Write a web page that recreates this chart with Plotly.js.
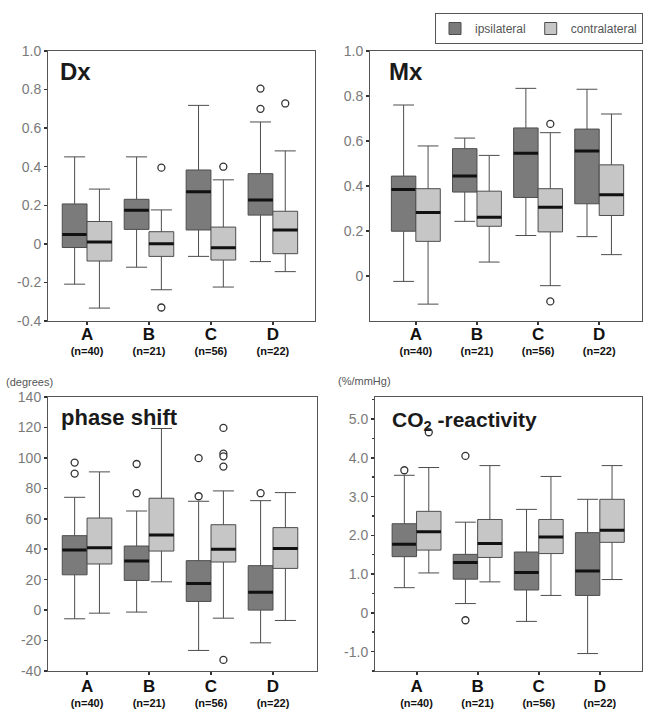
<!DOCTYPE html>
<html><head><meta charset="utf-8">
<script src="https://cdn.plot.ly/plotly-3.0.1.min.js"></script>
<style>html,body{margin:0;padding:0;background:#fff;}#chart{width:645px;height:711px;}</style>
</head><body><div id="chart"></div>
<script>
// ---- categories ----
const categories = ['A', 'B', 'C', 'D'];
const nLabels = ['(n=40)', '(n=21)', '(n=56)', '(n=22)'];
const seriesNames = ['ipsilateral', 'contralateral'];

// ---- Dx ----
const dxIpsiLow = [-0.209, -0.121, -0.065, -0.092];
const dxIpsiQ1  = [-0.019, 0.075, 0.072, 0.149];
const dxIpsiMed = [0.048, 0.174, 0.270, 0.227];
const dxIpsiQ3  = [0.207, 0.231, 0.383, 0.364];
const dxIpsiUp  = [0.451, 0.451, 0.718, 0.632];
const dxIpsiOutCat = ['D', 'D'];
const dxIpsiOutVal = [0.805, 0.700];
const dxConLow = [-0.333, -0.238, -0.224, -0.144];
const dxConQ1  = [-0.089, -0.065, -0.084, -0.051];
const dxConMed = [0.010, 0.000, -0.020, 0.072];
const dxConQ3  = [0.116, 0.063, 0.087, 0.169];
const dxConUp  = [0.284, 0.176, 0.332, 0.482];
const dxConOutCat = ['B', 'B', 'C', 'D'];
const dxConOutVal = [0.395, -0.330, 0.400, 0.728];

// ---- Mx ----
const mxIpsiLow = [-0.024, 0.243, 0.180, 0.175];
const mxIpsiQ1  = [0.199, 0.373, 0.349, 0.321];
const mxIpsiMed = [0.385, 0.445, 0.545, 0.555];
const mxIpsiQ3  = [0.444, 0.566, 0.658, 0.653];
const mxIpsiUp  = [0.760, 0.613, 0.834, 0.830];
const mxIpsiOutCat = [];
const mxIpsiOutVal = [];
const mxConLow = [-0.125, 0.062, -0.043, 0.095];
const mxConQ1  = [0.154, 0.221, 0.196, 0.269];
const mxConMed = [0.282, 0.261, 0.306, 0.361];
const mxConQ3  = [0.388, 0.377, 0.388, 0.494];
const mxConUp  = [0.578, 0.536, 0.637, 0.720];
const mxConOutCat = ['C', 'C'];
const mxConOutVal = [0.676, -0.113];

// ---- phase shift (degrees) ----
const phIpsiLow = [-5.7, -1.3, -26.5, -21.5];
const phIpsiQ1  = [23.2, 19.5, 5.7, 0.0];
const phIpsiMed = [39.5, 32.2, 17.5, 11.8];
const phIpsiQ3  = [48.9, 42.1, 32.5, 29.2];
const phIpsiUp  = [74.1, 65.1, 71.5, 71.9];
const phIpsiOutCat = ['A', 'A', 'B', 'B', 'C', 'C', 'D'];
const phIpsiOutVal = [96.9, 89.7, 96.0, 76.8, 99.8, 74.8, 76.8];
const phConLow = [-2.0, 18.6, -5.3, -6.8];
const phConQ1  = [30.3, 38.8, 31.6, 27.4];
const phConMed = [41.0, 49.3, 39.9, 40.4];
const phConQ3  = [60.5, 73.5, 56.1, 54.2];
const phConUp  = [90.8, 119.3, 78.3, 77.2];
const phConOutCat = ['C', 'C', 'C', 'C', 'C'];
const phConOutVal = [119.7, 102.8, 101.0, 94.3, -32.7];

// ---- CO2 reactivity (%/mmHg) ----
const coIpsiLow = [0.65, 0.24, -0.22, -1.05];
const coIpsiQ1  = [1.45, 0.87, 0.59, 0.45];
const coIpsiMed = [1.77, 1.30, 1.04, 1.08];
const coIpsiQ3  = [2.30, 1.51, 1.57, 2.07];
const coIpsiUp  = [3.55, 2.34, 2.67, 2.93];
const coIpsiOutCat = ['A', 'B', 'B'];
const coIpsiOutVal = [3.68, 4.05, -0.19];
const coConLow = [1.03, 0.80, 0.45, 0.86];
const coConQ1  = [1.62, 1.43, 1.53, 1.82];
const coConMed = [2.09, 1.79, 1.96, 2.13];
const coConQ3  = [2.62, 2.41, 2.41, 2.93];
const coConUp  = [3.75, 3.80, 3.52, 3.80];
const coConOutCat = ['A'];
const coConOutVal = [4.66];

// ---- tick labels ----
const dxTickVals = [-0.4, -0.2, 0, 0.2, 0.4, 0.6, 0.8, 1.0];
const dxTickText = ['-0.4', '-0.2', '0', '0.2', '0.4', '0.6', '0.8', '1.0'];
const mxTickVals = [0, 0.2, 0.4, 0.6, 0.8, 1.0];
const mxTickText = ['0', '0.2', '0.4', '0.6', '0.8', '1.0'];
const phTickVals = [-40, -20, 0, 20, 40, 60, 80, 100, 120, 140];
const phTickText = ['-40', '-20', '0', '20', '40', '60', '80', '100', '120', '140'];
const coTickVals = [-1, 0, 1, 2, 3, 4, 5];
const coTickText = ['-1.0', '0', '1.0', '2.0', '3.0', '4.0', '5.0'];

// ---- styling ----
const FONT = 'Liberation Sans, Arial, sans-serif';
const DARK = '#7b7b7b', LIGHT = '#c6c6c6', EDGE = '#4d4d4d';
const OFF = 0.2, BW = 0.4;

const traces = [];
function idx(c) { return categories.indexOf(c); }
function addSeries(ax, s, low, q1, med, q3, up, outCat, outVal, showLeg) {
  const off = s === 0 ? -OFF : OFF;
  const pos = categories.map((c, i) => i + off);
  const fill = s === 0 ? DARK : LIGHT;
  traces.push({
    type: 'box', xaxis: 'x' + ax, yaxis: 'y' + ax, name: seriesNames[s],
    x: pos, q1: q1, median: med, q3: q3, lowerfence: low, upperfence: up,
    width: BW, whiskerwidth: 0.85, boxpoints: false,
    fillcolor: fill, line: { color: EDGE, width: 1 },
    showlegend: showLeg, legendgroup: seriesNames[s], hoverinfo: 'skip'
  });
  // thick median bar
  traces.push({
    type: 'box', xaxis: 'x' + ax, yaxis: 'y' + ax, name: seriesNames[s] + ' median',
    x: pos, q1: med, median: med, q3: med, lowerfence: med, upperfence: med,
    width: BW, whiskerwidth: 0, boxpoints: false,
    fillcolor: 'rgba(0,0,0,0)', line: { color: '#111', width: 3 },
    showlegend: false, hoverinfo: 'skip'
  });
  if (outVal.length) {
    traces.push({
      type: 'scatter', mode: 'markers', xaxis: 'x' + ax, yaxis: 'y' + ax,
      x: outCat.map(c => idx(c) + off), y: outVal,
      marker: { symbol: 'circle', size: 7, color: '#fff', line: { color: '#333', width: 1.3 } },
      showlegend: false, hoverinfo: 'skip'
    });
  }
}
addSeries('', 0, dxIpsiLow, dxIpsiQ1, dxIpsiMed, dxIpsiQ3, dxIpsiUp, dxIpsiOutCat, dxIpsiOutVal, true);
addSeries('', 1, dxConLow, dxConQ1, dxConMed, dxConQ3, dxConUp, dxConOutCat, dxConOutVal, true);
addSeries('2', 0, mxIpsiLow, mxIpsiQ1, mxIpsiMed, mxIpsiQ3, mxIpsiUp, mxIpsiOutCat, mxIpsiOutVal, false);
addSeries('2', 1, mxConLow, mxConQ1, mxConMed, mxConQ3, mxConUp, mxConOutCat, mxConOutVal, false);
addSeries('3', 0, phIpsiLow, phIpsiQ1, phIpsiMed, phIpsiQ3, phIpsiUp, phIpsiOutCat, phIpsiOutVal, false);
addSeries('3', 1, phConLow, phConQ1, phConMed, phConQ3, phConUp, phConOutCat, phConOutVal, false);
addSeries('4', 0, coIpsiLow, coIpsiQ1, coIpsiMed, coIpsiQ3, coIpsiUp, coIpsiOutCat, coIpsiOutVal, false);
addSeries('4', 1, coConLow, coConQ1, coConMed, coConQ3, coConUp, coConOutCat, coConOutVal, false);

const xTickText = categories.map((c, i) =>
  '<span style="font-size:17px"><b>' + c + '</b></span><br><b>' + nLabels[i] + '</b>');

function xAxis(domain, range, anchor, standoff) {
  return {
    domain: domain, range: range, anchor: anchor,
    tickmode: 'array', tickvals: categories.map((c, i) => i), ticktext: xTickText,
    ticks: 'outside', ticklen: 3, tickcolor: '#333', tickwidth: 2,
    ticklabelstandoff: standoff,
    tickfont: { family: FONT, size: 11, color: '#111' },
    showline: true, mirror: true, linecolor: '#555', linewidth: 1,
    showgrid: false, zeroline: false, fixedrange: true
  };
}
function yAxis(domain, range, anchor, vals, text, minor) {
  const a = {
    domain: domain, range: range, anchor: anchor,
    tickmode: 'array', tickvals: vals, ticktext: text,
    ticks: 'outside', ticklen: 3, tickcolor: '#333', tickwidth: 1.5,
    tickfont: { family: FONT, size: 14, color: '#7a7a7a' },
    showline: true, mirror: true, linecolor: '#555', linewidth: 1,
    showgrid: false, zeroline: false, fixedrange: true
  };
  if (minor) a.minor = { dtick: 0.5, tick0: 0, ticks: 'outside', ticklen: 2, tickcolor: '#333', tickwidth: 1.5 };
  return a;
}

const W = 645, H = 711;
const px = v => v / W, py = v => 1 - v / H;

const layout = {
  width: W, height: H, paper_bgcolor: '#fff', plot_bgcolor: '#fff',
  margin: { l: 0, r: 0, t: 0, b: 0 },
  font: { family: FONT },
  showlegend: true,
  legend: {
    orientation: 'h', x: px(643), xanchor: 'right', y: py(13), yanchor: 'top',
    bordercolor: '#555', borderwidth: 1, bgcolor: '#fff',
    font: { family: FONT, size: 12, color: '#555' }
  },
  xaxis:  xAxis([px(48), px(315)], [-0.63, 3.68], 'y', 2),
  yaxis:  yAxis([py(321), py(51)], [-0.4, 1.0], 'x', dxTickVals, dxTickText, false),
  xaxis2: xAxis([px(370), px(642)], [-0.75, 3.70], 'y2', 2),
  yaxis2: yAxis([py(321), py(51)], [-0.2, 1.0], 'x2', mxTickVals, mxTickText, false),
  xaxis3: xAxis([px(48), px(317)], [-0.63, 3.71], 'y3', 4),
  yaxis3: yAxis([py(671), py(397)], [-40, 140], 'x3', phTickVals, phTickText, false),
  xaxis4: xAxis([px(375), px(642)], [-0.68, 3.69], 'y4', 4),
  yaxis4: yAxis([py(671), py(397)], [-1.5, 5.57], 'x4', coTickVals, coTickText, true),
  annotations: [
    { text: '<b>Dx</b>', xref: 'paper', yref: 'paper', x: px(58), y: py(71), xanchor: 'left', yanchor: 'middle', showarrow: false, font: { family: FONT, size: 24, color: '#1a1a1a' } },
    { text: '<b>Mx</b>', xref: 'paper', yref: 'paper', x: px(387), y: py(71), xanchor: 'left', yanchor: 'middle', showarrow: false, font: { family: FONT, size: 24, color: '#1a1a1a' } },
    { text: '<b>phase shift</b>', xref: 'paper', yref: 'paper', x: px(59), y: py(417), xanchor: 'left', yanchor: 'middle', showarrow: false, font: { family: FONT, size: 22, color: '#1a1a1a' } },
    { text: '<b>CO<sub>2</sub> -reactivity</b>', xref: 'paper', yref: 'paper', x: px(390), y: py(421), xanchor: 'left', yanchor: 'middle', showarrow: false, font: { family: FONT, size: 21, color: '#1a1a1a' } },
    { text: '(degrees)', xref: 'paper', yref: 'paper', x: px(4), y: py(382), xanchor: 'left', yanchor: 'middle', showarrow: false, font: { family: FONT, size: 11, color: '#555' } },
    { text: '(%/mmHg)', xref: 'paper', yref: 'paper', x: px(336), y: py(381), xanchor: 'left', yanchor: 'middle', showarrow: false, font: { family: FONT, size: 11, color: '#555' } }
  ]
};

Plotly.newPlot('chart', traces, layout, { staticPlot: true, displayModeBar: false });
</script>
</body></html>
